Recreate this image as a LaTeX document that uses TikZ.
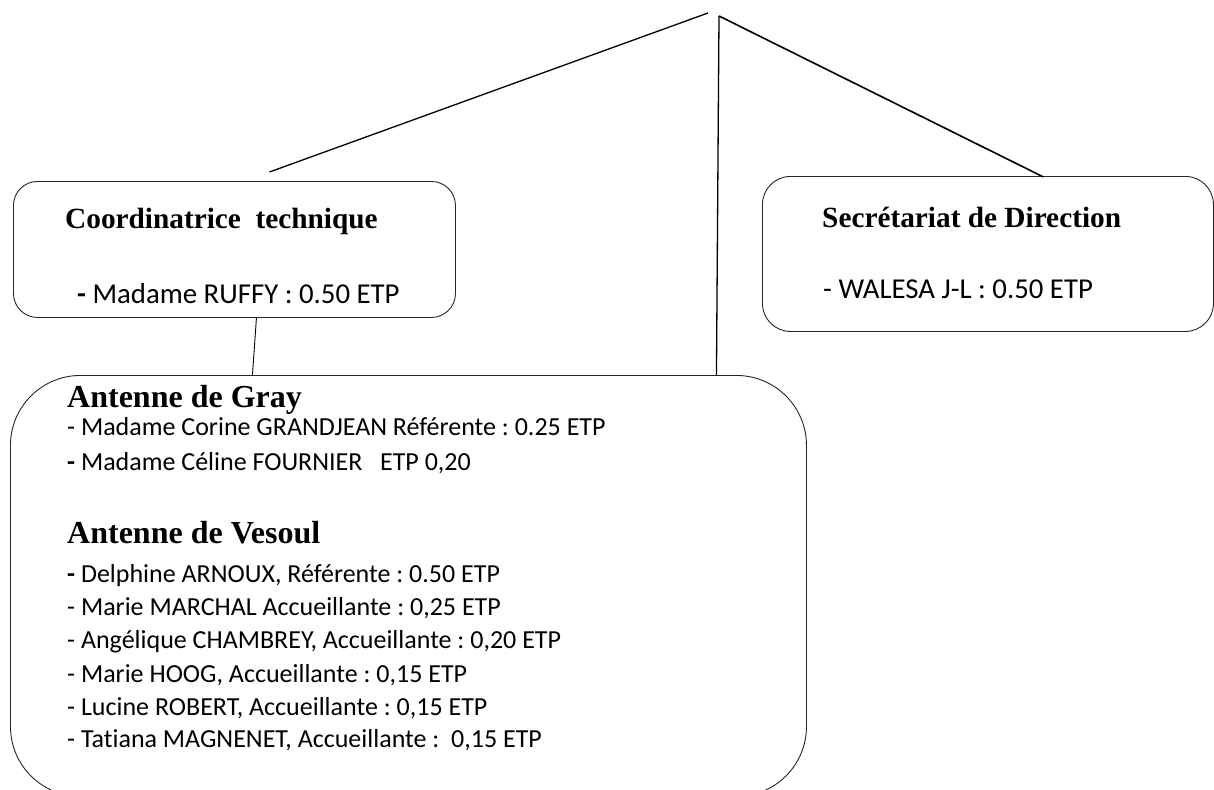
\documentclass[tikz,border=0pt]{standalone}
\usepackage{fontspec}
\setmainfont[Ligatures={NoCommon}]{Carlito}
\newfontfamily\headfont{Liberation Serif}
\frenchspacing
\begin{document}
\frenchspacing
\begin{tikzpicture}[x=1pt,y=-1pt,
  box/.style={draw=black!85, line width=0.9pt, anchor=north west, inner sep=0pt},
  link/.style={draw=black, line width=1.3pt},
  thin link/.style={draw=black, line width=0.9pt},
  headA/.style={anchor=base west, inner sep=0pt, font=\headfont\bfseries\fontsize{29.3}{34}\selectfont},
  headB/.style={anchor=base west, inner sep=0pt, font=\headfont\bfseries\fontsize{32}{36}\selectfont},
  bodyA/.style={anchor=base west, inner sep=0pt, font=\frenchspacing\fontsize{28.8}{34}\selectfont},
  bodyB/.style={anchor=base west, inner sep=0pt, font=\frenchspacing\fontsize{26}{30}\selectfont}]
\useasboundingbox (0,0) rectangle (1214,789);
\clip (0,0) rectangle (1214,789);
\fill[white] (0,0) rectangle (1214,789);

% boxes
\node[box, rounded corners=24pt, minimum width=442pt, minimum height=136pt] (coord) at (13,181) {};
\node[box, rounded corners=28pt, minimum width=451pt, minimum height=155pt] (secr) at (762,176) {};
\node[box, rounded corners=70pt, minimum width=796pt, minimum height=421pt] (ant) at (10,375) {};

% apex points
\coordinate (apexL) at (708,13);
\coordinate (apexR) at (719,16);

% connectors
\draw[link] ([xshift=35pt,yshift=9pt]coord.north) -- (apexL);
\draw[link, line width=1.6pt] (apexR) -- ([xshift=55.5pt,yshift=-1pt]secr.north);
\draw[link] (apexR) -- ([xshift=308pt]ant.north);
\draw[thin link] ([xshift=22pt]coord.south) -- ([xshift=-156pt]ant.north);

% texts top boxes
\node[headA] (t1) at (65,228) {Coordinatrice\ \ technique};
\node[bodyA] (t2) at (77,303) {{\bfseries -} Madame RUFFY : 0.50 ETP};
\node[headA] (t3) at (822,227) {Secrétariat de Direction};
\node[bodyA] (t4) at (823,298) {- WALESA J-L : 0.50 ETP};

% texts bottom box
\node[headB] (g0) at (67,407) {Antenne de Gray};
\node[bodyB] (g1) at (67,435) {- Madame Corine GRANDJEAN Référente : 0.25 ETP};
\node[bodyB] (g2) at (67,470) {{\bfseries -} Madame Céline FOURNIER\ \ \ ETP 0,20};
\node[headB] (v0) at (67,543) {Antenne de Vesoul};
\node[bodyB] (v1) at (67,582) {{\bfseries -} Delphine ARNOUX, Référente : 0.50 ETP};
\node[bodyB] (v2) at (67,615) {- Marie MARCHAL Accueillante : 0,25 ETP};
\node[bodyB] (v3) at (67,648) {- Angélique CHAMBREY, Accueillante : 0,20 ETP};
\node[bodyB] (v4) at (67,682) {- Marie HOOG, Accueillante : 0,15 ETP};
\node[bodyB] (v5) at (67,715) {- Lucine ROBERT, Accueillante : 0,15 ETP};
\node[bodyB] (v6) at (67,747) {- Tatiana MAGNENET, Accueillante :\ \ 0,15 ETP};
\end{tikzpicture}
\end{document}
